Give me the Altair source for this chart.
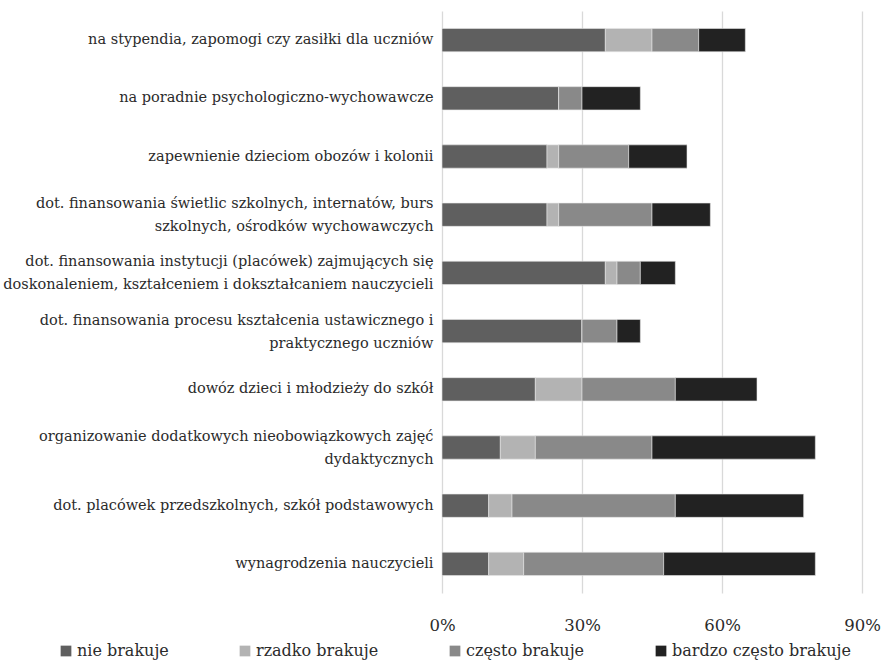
import altair as alt
import pandas as pd

# Budget areas (top to bottom); "|" marks a line break in the axis label
categories = [
    "na stypendia, zapomogi czy zasiłki dla uczniów",
    "na poradnie psychologiczno-wychowawcze",
    "zapewnienie dzieciom obozów i kolonii",
    "dot. finansowania świetlic szkolnych, internatów, burs|szkolnych, ośrodków wychowawczych",
    "dot. finansowania instytucji (placówek) zajmujących się|doskonaleniem, kształceniem i dokształcaniem nauczycieli",
    "dot. finansowania procesu kształcenia ustawicznego i|praktycznego uczniów",
    "dowóz dzieci i młodzieży do szkół",
    "organizowanie dodatkowych nieobowiązkowych zajęć|dydaktycznych",
    "dot. placówek przedszkolnych, szkół podstawowych",
    "wynagrodzenia nauczycieli",
]

statuses = ["nie brakuje", "rzadko brakuje", "często brakuje", "bardzo często brakuje"]

# Shares of answers, in percent
nie_brakuje = [35, 25, 22.5, 22.5, 35, 30, 20, 12.5, 10, 10]
rzadko_brakuje = [10, 0, 2.5, 2.5, 2.5, 0, 10, 7.5, 5, 7.5]
czesto_brakuje = [10, 5, 15, 20, 5, 7.5, 20, 25, 35, 30]
bardzo_czesto_brakuje = [10, 12.5, 12.5, 12.5, 7.5, 5, 17.5, 35, 27.5, 32.5]

colors = ["#5f5f5f", "#b3b3b3", "#898989", "#222222"]

series = [nie_brakuje, rzadko_brakuje, czesto_brakuje, bardzo_czesto_brakuje]
rows = []
for si, (status, values) in enumerate(zip(statuses, series)):
    for cat, v in zip(categories, values):
        rows.append({"kategoria": cat, "status": status, "udzial": v / 100, "kolejnosc": si})
df = pd.DataFrame(rows)

FONT = "DejaVu Serif"
TEXT = "#2b2b2b"

chart = (
    alt.Chart(df)
    .mark_bar(stroke="#e6e6e6", strokeWidth=0.6)
    .encode(
        y=alt.Y(
            "kategoria:N",
            sort=categories,
            title=None,
            scale=alt.Scale(paddingInner=0.6, paddingOuter=0.3),
            axis=alt.Axis(
                labelExpr="split(datum.label, '|')",
                labelFontSize=14.5,
                labelLineHeight=23,
                labelColor=TEXT,
                labelPadding=9,
                labelLimit=460,
                labelOffset=alt.condition(
                    "indexof(datum.label, '|') >= 0", alt.value(-10.5), alt.value(0)
                ),
                ticks=False,
                domain=False,
                grid=False,
            ),
        ),
        x=alt.X(
            "udzial:Q",
            stack="zero",
            title=None,
            scale=alt.Scale(domain=[0, 0.9], nice=False),
            axis=alt.Axis(
                values=[0, 0.3, 0.6, 0.9],
                format=".0%",
                labelFontSize=16.5,
                labelColor=TEXT,
                labelPadding=24,
                labelFlush=False,
                labelBound=False,
                ticks=False,
                domain=False,
                grid=True,
                gridColor="#d9d9d9",
                gridWidth=1.3,
            ),
        ),
        color=alt.Color(
            "status:N",
            scale=alt.Scale(domain=statuses, range=colors),
            legend=alt.Legend(
                title=None,
                orient="none",
                direction="horizontal",
                legendX=-384,
                legendY=632,
                symbolType="square",
                symbolSize=115,
                symbolStrokeWidth=0,
                labelFontSize=16,
                labelColor=TEXT,
                labelLimit=300,
                columnPadding=68,
                labelOffset=3,
            ),
        ),
        order=alt.Order("kolejnosc:Q"),
    )
    .properties(
        width=420,
        height=582,
        autosize=alt.AutoSizeParams(type="none"),
        padding={"left": 442, "top": 11, "right": 20, "bottom": 71},
    )
    .configure(font=FONT)
    .configure_view(stroke=None)
)

chart.save("out.html", embed_options={"renderer": "svg", "actions": False})
